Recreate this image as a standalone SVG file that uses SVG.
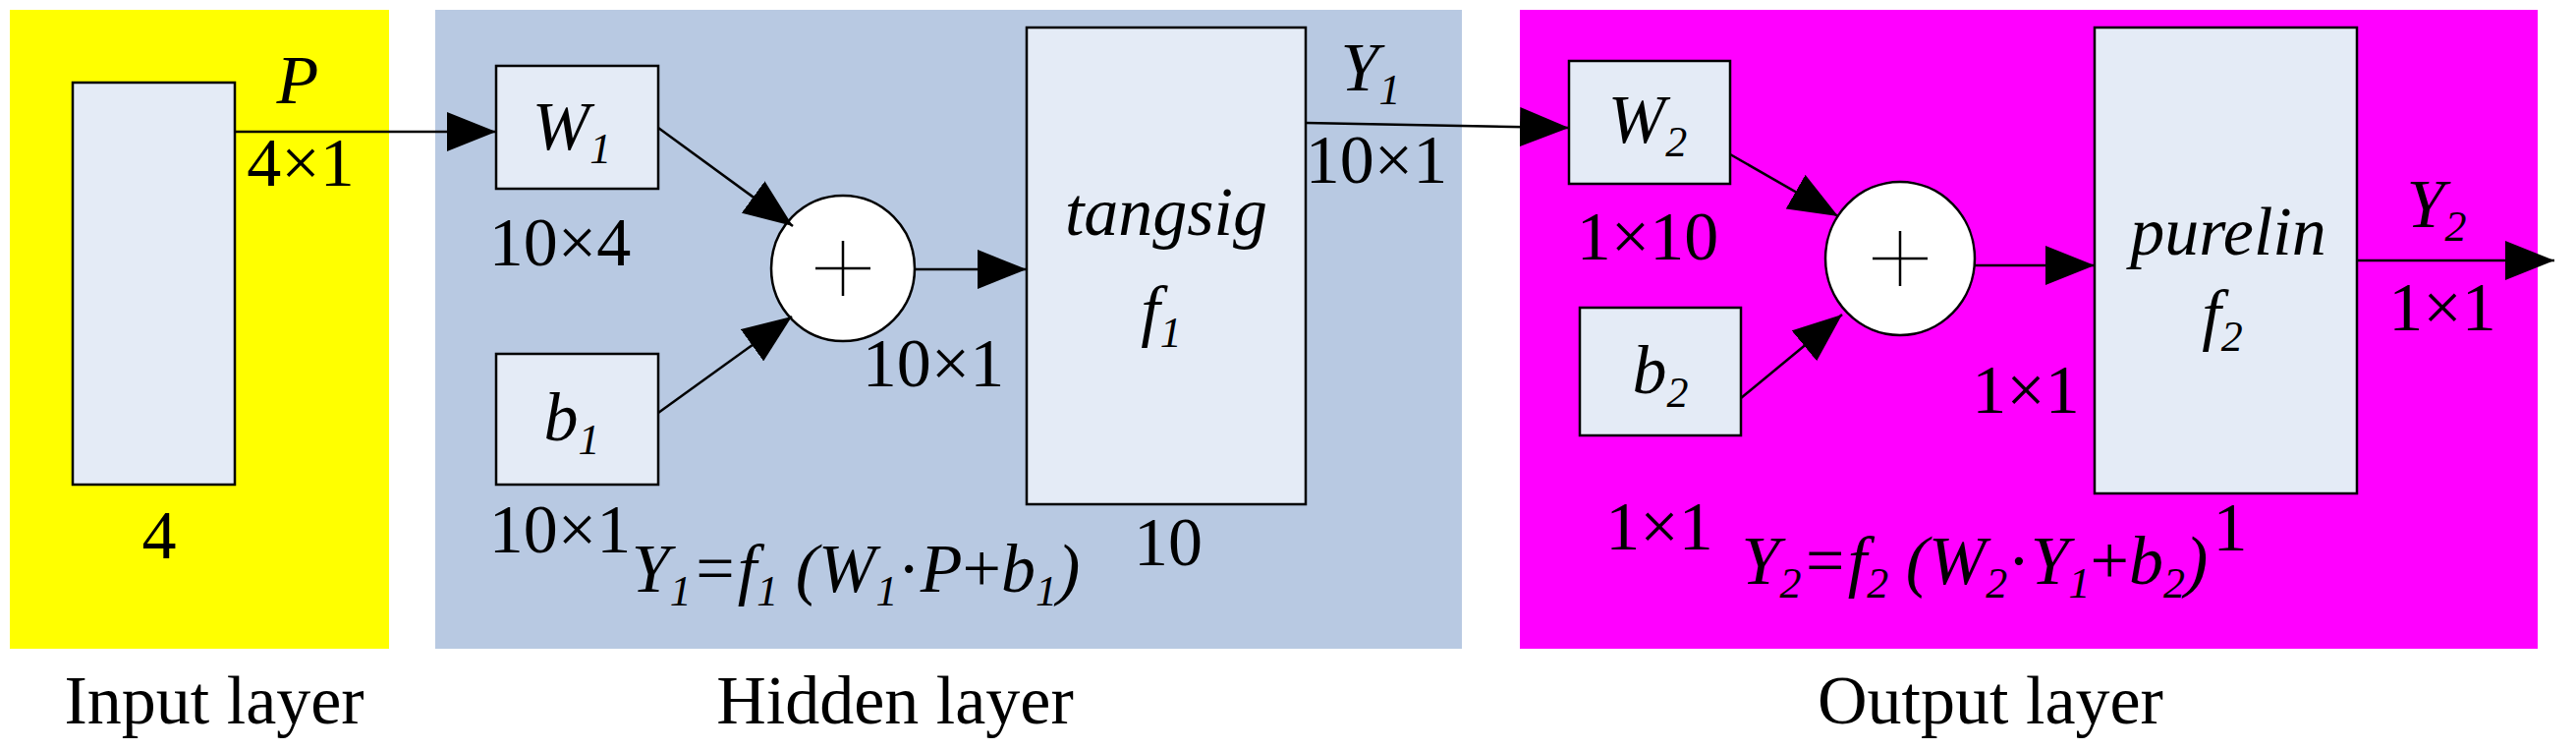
<svg xmlns="http://www.w3.org/2000/svg" width="2622" height="762" viewBox="0 0 2622 762">
<defs>
<style>
.box{fill:#e4ebf6;stroke:#000;stroke-width:2.5}
.sum{fill:#fff;stroke:#000;stroke-width:2.5}
.t{font-family:"Liberation Serif","DejaVu Serif","Times New Roman",serif;font-size:70px;fill:#000;text-anchor:middle}
.i{font-style:italic}
.c{stroke:#000;stroke-width:2.5;fill:none}
</style>
<marker id="ah" viewBox="0 0 10 10" refX="10" refY="5" markerWidth="50" markerHeight="40" markerUnits="userSpaceOnUse" orient="auto" preserveAspectRatio="none"><path d="M0,0L10,5L0,10z" fill="#000"/></marker>
</defs>
<rect width="2622" height="762" fill="#fff"/>
<g id="layers">
<rect x="10" y="10" width="386" height="650" fill="#ffff00"/>
<rect x="443" y="10" width="1045" height="650" fill="#b8c9e2"/>
<rect x="1547" y="10" width="1036" height="650" fill="#ff00ff"/>
</g>
<g id="input"><rect class="box" x="74" y="84" width="165" height="409"/><text class="t" x="162" y="568">4</text></g>
<g id="W1"><rect class="box" x="505" y="67" width="165" height="125"/><text class="t i" x="582" y="152">W<tspan font-size="44" dy="14">1</tspan></text><text class="t" x="570" y="270">10×4</text></g>
<g id="b1"><rect class="box" x="505" y="360" width="165" height="133"/><text class="t i" x="582" y="448">b<tspan font-size="44" dy="14">1</tspan></text><text class="t" x="570" y="562">10×1</text></g>
<g id="sum1"><ellipse class="sum" cx="858" cy="273" rx="73" ry="74"/><path class="c" d="M830,273H886M858,245V301" stroke-width="4.5"/><text class="t" x="950" y="393">10×1</text></g>
<g id="tangsig"><rect class="box" x="1045" y="28" width="284" height="485"/><text class="t i" x="1187" y="239">tangsig</text><text class="t i" x="1182" y="339">f<tspan font-size="44" dy="14">1</tspan></text><text class="t" x="1189" y="575">10</text></g>
<g id="W2"><rect class="box" x="1597" y="62" width="164" height="125"/><text class="t i" x="1677" y="145">W<tspan font-size="44" dy="14">2</tspan></text><text class="t" x="1677" y="264">1×10</text></g>
<g id="b2"><rect class="box" x="1608" y="313" width="164" height="130"/><text class="t i" x="1690" y="400">b<tspan font-size="44" dy="14">2</tspan></text><text class="t" x="1689" y="559">1×1</text></g>
<g id="sum2"><ellipse class="sum" cx="1934" cy="263" rx="76" ry="78"/><path class="c" d="M1906,263H1962M1934,235V291" stroke-width="4.5"/><text class="t" x="2062" y="420">1×1</text></g>
<g id="purelin"><rect class="box" x="2132" y="28" width="267" height="474"/><text class="t i" x="2268" y="259">purelin</text><text class="t i" x="2262" y="343">f<tspan font-size="44" dy="14">2</tspan></text></g>
<g id="connectors">
<line class="c" x1="239" y1="134" x2="505" y2="134" marker-end="url(#ah)"/>
<line class="c" x1="670" y1="130" x2="807" y2="230" marker-end="url(#ah)"/>
<line class="c" x1="670" y1="420" x2="806" y2="322" marker-end="url(#ah)"/>
<line class="c" x1="931" y1="274" x2="1045" y2="274" marker-end="url(#ah)"/>
<line class="c" x1="1329" y1="125" x2="1597" y2="130" marker-end="url(#ah)"/>
<line class="c" x1="1761" y1="157" x2="1871" y2="220" marker-end="url(#ah)"/>
<line class="c" x1="1772" y1="405" x2="1875" y2="320" marker-end="url(#ah)"/>
<line class="c" x1="2010" y1="270" x2="2132" y2="270" marker-end="url(#ah)"/>
<line class="c" x1="2399" y1="265" x2="2600" y2="265" marker-end="url(#ah)"/>
</g>
<g id="labels">
<text class="t i" x="303" y="105">P</text>
<text class="t" x="306" y="189">4×1</text>
<text class="t i" x="1395" y="92">Y<tspan font-size="44" dy="14">1</tspan></text>
<text class="t" x="1401" y="186">10×1</text>
<text class="t i" x="2480" y="231">Y<tspan font-size="44" dy="14">2</tspan></text>
<text class="t" x="2486" y="336">1×1</text>
<text class="t i" x="871" y="602">Y<tspan font-size="44" dy="14">1</tspan><tspan dy="-14">=f</tspan><tspan font-size="44" dy="14">1</tspan><tspan dy="-14"> (W</tspan><tspan font-size="44" dy="14">1</tspan><tspan dy="-14" font-style="normal">·</tspan><tspan>P</tspan><tspan font-style="normal">+</tspan><tspan>b</tspan><tspan font-size="44" dy="14">1</tspan><tspan dy="-14">)</tspan></text>
<text class="t i" x="2010" y="594">Y<tspan font-size="44" dy="14">2</tspan><tspan dy="-14">=f</tspan><tspan font-size="44" dy="14">2</tspan><tspan dy="-14"> (W</tspan><tspan font-size="44" dy="14">2</tspan><tspan dy="-14" font-style="normal">·</tspan><tspan>Y</tspan><tspan font-size="44" dy="14">1</tspan><tspan dy="-14" font-style="normal">+</tspan><tspan>b</tspan><tspan font-size="44" dy="14">2</tspan><tspan dy="-14">)</tspan></text>
<text class="t" x="2270" y="560">1</text>
<text class="t" x="218" y="736">Input layer</text>
<text class="t" x="911" y="736">Hidden layer</text>
<text class="t" x="2026" y="736">Output layer</text>
</g>
</svg>
